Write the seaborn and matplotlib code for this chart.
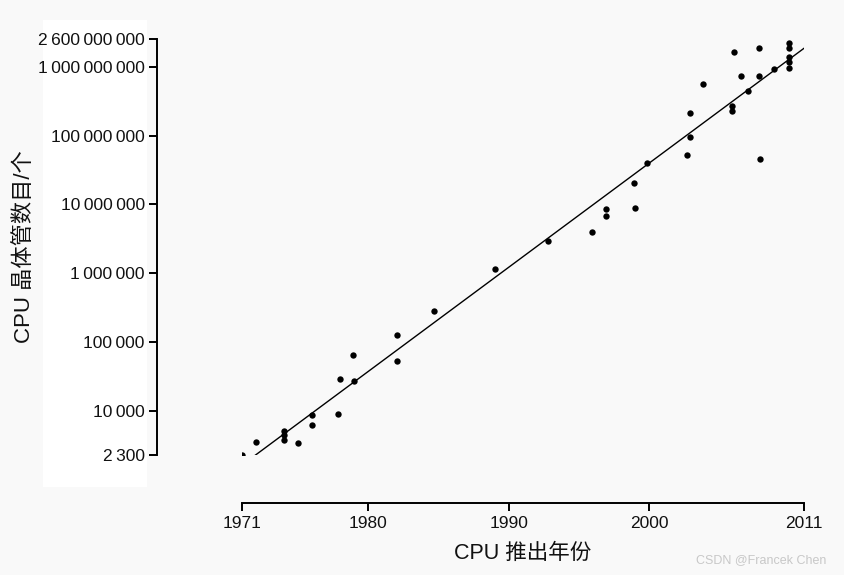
import numpy as np
import pandas as pd
import matplotlib
matplotlib.use("Agg")
import matplotlib.pyplot as plt
from matplotlib.patches import Rectangle
import seaborn as sns

# CPU launch year and transistor counts
years = [1971.0, 1972.0, 1974.0, 1974.0, 1974.0, 1975.0, 1976.0, 1976.0,
         1977.8, 1978.0, 1979.0, 1978.9, 1982.0, 1982.0, 1984.7, 1989.0,
         1992.8, 1995.9, 1996.9, 1996.9, 1998.9, 1999.0, 1999.8, 2002.7,
         2002.9, 2002.9, 2003.8, 2005.9, 2005.9, 2006.0, 2006.5, 2007.0,
         2007.8, 2007.8, 2007.9, 2008.9, 2009.9, 2009.95, 2009.9, 2009.95,
         2009.95]
transistors = [2300, 3540, 5100, 4480, 3790, 3430, 8750, 6260,
               9040, 29200, 27300, 65100, 53300, 127000, 284000, 1160000,
               2960000, 4000000, 6800000, 8600000, 20600000, 8900000, 40300000, 53000000,
               96000000, 214000000, 566000000, 271000000, 229000000, 1650000000, 740000000, 448000000,
               1890000000, 740000000, 46000000, 935000000, 2230000000, 1890000000, 1400000000, 1180000000,
               970000000]

x_ticks = [1971, 1980, 1990, 2000, 2011]
x_labels = ["1971", "1980", "1990", "2000", "2011"]
y_ticks = [2300, 10000, 100000, 1000000, 10000000, 100000000, 1000000000, 2600000000]
y_labels = ["2\u2009300", "10\u2009000", "100\u2009000", "1\u2009000\u2009000",
            "10\u2009000\u2009000", "100\u2009000\u2009000",
            "1\u2009000\u2009000\u2009000", "2\u2009600\u2009000\u2009000"]

df = pd.DataFrame({"year": years, "count": transistors})

sns.set_theme(style="ticks")
plt.rcParams["font.family"] = ["Liberation Sans", "Noto Sans CJK SC", "DejaVu Sans"]

fig = plt.figure(figsize=(8.44, 5.75), dpi=100, facecolor="#f9f9f9")
fig.patches.append(Rectangle((43 / 844, 1 - 487 / 575), 104 / 844, 467 / 575,
                             transform=fig.transFigure, facecolor="white",
                             edgecolor="none", zorder=-5))
ax = fig.add_axes([242 / 844, 1 - 454.5 / 575, 562 / 844, 416 / 575])
ax.set_facecolor("none")
ax.set_zorder(2)

sns.scatterplot(data=df, x="year", y="count", ax=ax, color="black",
                s=21, linewidth=0, zorder=3)

# least-squares trend line in log space
coef = np.polyfit(df["year"], np.log10(df["count"]), 1)
xs = np.linspace(1965, 2015, 200)
ax.plot(xs, 10 ** np.polyval(coef, xs), color="black", lw=1.0, zorder=2)

ax.set_yscale("log")
ax.set_xlim(1971, 2011)
ax.set_ylim(2300, 2600000000)
ax.set_xticks(x_ticks)
ax.set_xticklabels(x_labels)
ax.set_yticks(y_ticks)
ax.set_yticklabels(y_labels)
ax.yaxis.set_minor_locator(matplotlib.ticker.NullLocator())
ax.tick_params(axis="both", length=6, width=1.4, color="black",
               labelcolor="#111111", pad=3)
ax.tick_params(axis="x", labelsize=12.5)
ax.tick_params(axis="y", labelsize=12.5)

for side in ["left", "bottom"]:
    ax.spines[side].set_linewidth(1.4)
    ax.spines[side].set_color("black")
sns.despine(ax=ax, offset={"left": 61, "bottom": 35}, trim=True)

ax.set_xlabel("CPU 推出年份", fontsize=15.5, color="#111111", labelpad=9)
ax.set_ylabel("CPU 晶体管数目/个", fontsize=16, color="#111111", labelpad=2)

fig.text(826 / 844, 1 - 560 / 575, "CSDN @Francek Chen", ha="right", va="center",
         fontsize=9, color="#c8c8c8")

fig.savefig("out.png", dpi=100, facecolor=fig.get_facecolor())
